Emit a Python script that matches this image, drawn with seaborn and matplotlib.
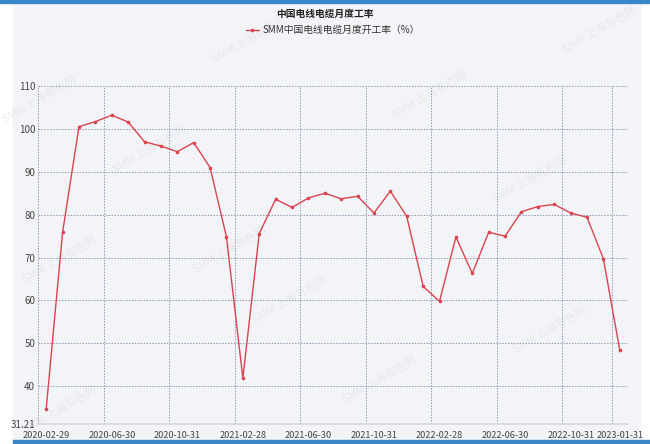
import numpy as np
import pandas as pd
import matplotlib
matplotlib.use("Agg")
import matplotlib.pyplot as plt
import seaborn as sns

# month-end categories, 2020-02 .. 2023-01
months = pd.date_range("2020-02-29", periods=36, freq="ME").strftime("%Y-%m-%d").tolist()
rate = [34.7, 75.9, 100.5, 101.7, 103.2, 101.6, 97.0, 96.0, 94.7, 96.8,
        91.0, 74.8, 41.9, 75.6, 83.6, 81.7, 83.9, 85.0, 83.7, 84.3,
        80.4, 85.5, 79.6, 63.3, 59.8, 74.8, 66.3, 75.9, 75.0, 80.7,
        81.9, 82.4, 80.4, 79.4, 69.7, 48.4]
y_ticks = [40, 50, 60, 70, 80, 90, 100, 110]
y_min = 31.21
series_name = "SMM中国电线电缆月度开工率（%）"
title = "中国电线电缆月度工率"

df = pd.DataFrame({"month": months, "rate": rate, "series": series_name})

sns.set_style("white")
plt.rcParams["font.family"] = ["Noto Sans CJK SC", "DejaVu Sans"]

fig = plt.figure(figsize=(6.5, 4.44), dpi=100)
fig.patch.set_facecolor("white")

# grey panel and blue bars
fig.patches.append(plt.Rectangle((13 / 650, 4 / 444), 627 / 650, 435 / 444,
                                 transform=fig.transFigure, color="#f3f4f7", zorder=-2))
fig.patches.append(plt.Rectangle((0, 441 / 444), 1, 3 / 444,
                                 transform=fig.transFigure, color="#3a86c8", zorder=-1))
fig.patches.append(plt.Rectangle((13 / 650, 0), 637 / 650, 4 / 444,
                                 transform=fig.transFigure, color="#3a86c8", zorder=-1))

ax = fig.add_axes([38 / 650, 20 / 444, 590 / 650, 338 / 444])
ax.set_facecolor("none")
ax.set_zorder(1)

red = "#d9444f"
sns.lineplot(data=df, x="month", y="rate", hue="series", palette=[red],
             marker="o", markersize=2.6, markeredgewidth=0, linewidth=1.0,
             sort=False, ax=ax)

n = len(months)
ax.set_xlim(-0.5, n - 0.5)
ax.set_ylim(y_min, 110)

label_pos = list(range(0, n, 4)) + [n - 1]
ax.set_xticks(label_pos)
ax.set_xticklabels([months[i] for i in label_pos])
ax.set_xticks([i - 0.5 for i in range(0, n, 4)] + [n - 1.5, n - 0.5], minor=True)
ax.set_yticks([y_min] + y_ticks)
ax.set_yticklabels(["31.21"] + [str(v) for v in y_ticks])

grid_kw = dict(color="#9296b4", linestyle=(0, (1.5, 1.5)), linewidth=0.7)
ax.grid(False)
ax.grid(True, which="minor", axis="x", **grid_kw)
for v in y_ticks:
    ax.axhline(v, zorder=0.5, **grid_kw)

ax.tick_params(axis="both", which="both", length=0, labelsize=7, colors="#444444", pad=2)
ax.tick_params(axis="x", labelsize=6.6, pad=5)
for s in ["top", "right", "left"]:
    ax.spines[s].set_visible(False)
ax.spines["bottom"].set_color("#d6d8e2")
ax.spines["bottom"].set_linewidth(1.2)
ax.set_xlabel("")
ax.set_ylabel("")

ax.legend(loc="center", bbox_to_anchor=(0.5, (444 - 30 - 20) / 338),
          frameon=False, fontsize=7, handlelength=1.4, handletextpad=0.4,
          borderaxespad=0, bbox_transform=ax.transAxes, labelcolor="#333333")
fig.text(0.5, 1 - 14 / 444, title, ha="center", va="center", fontsize=7,
         fontweight="bold", color="#222222")

# watermarks
for wx, wy in [(40, 100), (250, 40), (600, 30), (60, 260), (290, 300), (380, 380),
               (230, 250), (530, 180), (60, 410), (430, 95), (550, 330), (150, 150)]:
    fig.text(wx / 650, 1 - wy / 444, "SMM 上海有色网", rotation=30, fontsize=8,
             color="#c8ccd6", alpha=0.3, ha="center", va="center", zorder=-0.5)

fig.savefig("out.png", dpi=100)
